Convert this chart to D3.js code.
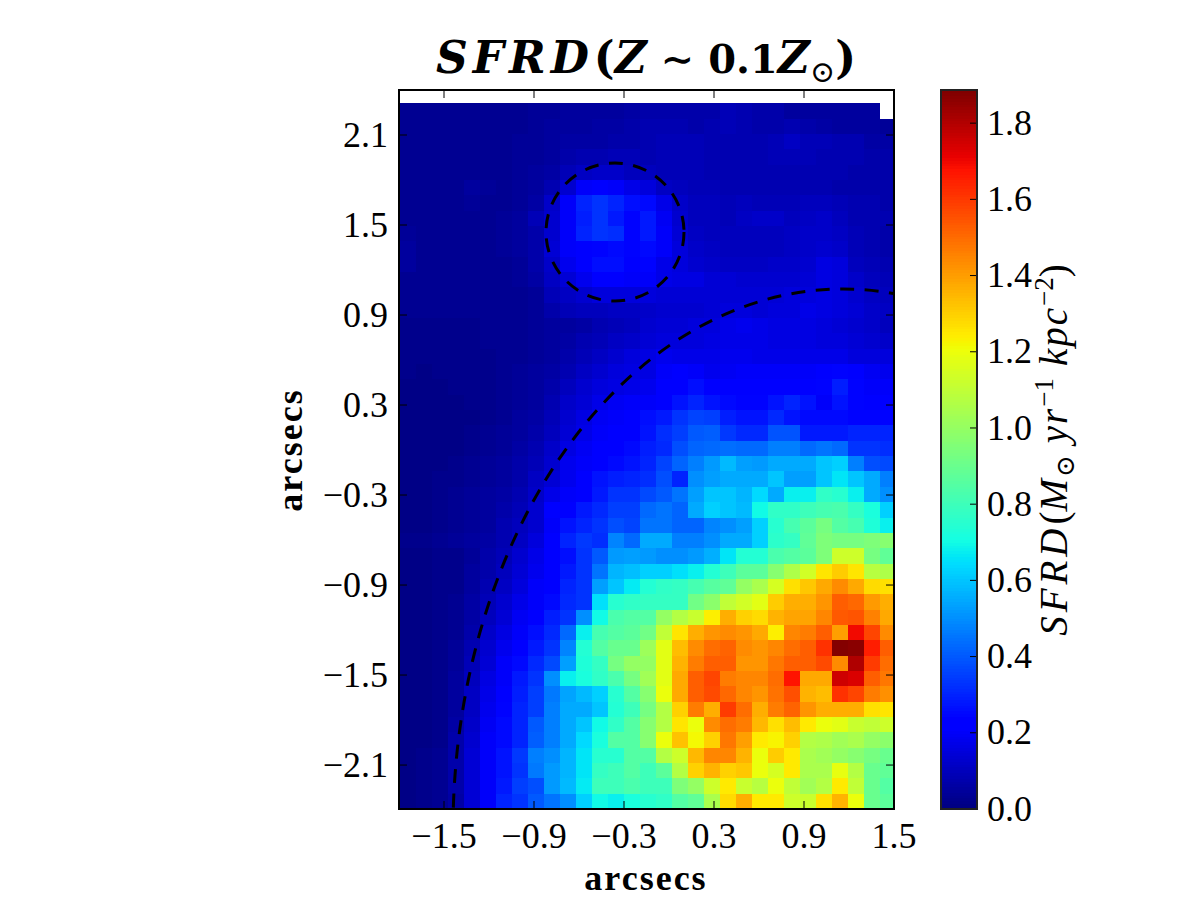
<!DOCTYPE html>
<html>
<head>
<meta charset="utf-8">
<script src="https://cdn.jsdelivr.net/npm/d3@7/dist/d3.min.js"></script>
<style>
  html, body { margin: 0; background: #fff; }
  svg { display: block; }
  text { font-family: "Liberation Serif", "DejaVu Serif", serif; fill: #000; }
  .tick text { font-size: 36px; }
  .math { font-family: "DejaVu Serif", "Liberation Serif", serif; }
</style>
</head>
<body>
<svg id="chart" width="1200" height="900"></svg>
<script>
// Star-formation-rate density map (rows top to bottom, columns left to right, null = no data)
const sfrdRows = [
  [null,null,null,null,null,null,null,null,null,null,null,null,null,null,null,null,null,null,null,null,null,null,null,null,null,null,null,null,null,null,null],
  [.03,.03,.03,.03,.03,.03,.03,.03,.04,.04,.05,.05,.05,.05,.06,.07,.07,.07,.07,.07,.09,.08,.07,.07,.05,.05,.05,.05,.05,.05,null],
  [.03,.03,.03,.03,.03,.03,.03,.03,.04,.05,.05,.05,.06,.06,.07,.08,.08,.08,.07,.08,.09,.08,.07,.07,.08,.07,.06,.05,.05,.05,.04],
  [.03,.03,.03,.03,.03,.03,.03,.04,.04,.05,.06,.06,.06,.07,.07,.08,.09,.09,.09,.08,.08,.08,.08,.09,.11,.09,.09,.08,.08,.06,.06],
  [.03,.03,.03,.03,.03,.03,.03,.04,.04,.05,.07,.08,.08,.09,.09,.08,.09,.09,.09,.08,.08,.08,.08,.09,.09,.09,.08,.08,.08,.07,.07],
  [.03,.03,.03,.03,.03,.03,.03,.04,.05,.06,.09,.11,.12,.12,.10,.10,.09,.09,.09,.08,.08,.08,.08,.08,.08,.08,.08,.08,.07,.07,.07],
  [.03,.03,.03,.03,.05,.04,.03,.04,.05,.08,.13,.20,.21,.20,.17,.15,.11,.10,.09,.09,.08,.08,.08,.08,.08,.08,.08,.07,.07,.07,.07],
  [.03,.03,.03,.03,.04,.03,.03,.04,.06,.12,.20,.30,.33,.30,.26,.25,.17,.12,.10,.10,.09,.10,.09,.09,.09,.10,.10,.09,.08,.08,.07],
  [.03,.03,.03,.03,.03,.03,.04,.05,.09,.13,.20,.29,.33,.28,.24,.28,.19,.13,.10,.10,.09,.11,.12,.12,.10,.11,.12,.10,.08,.08,.08],
  [.04,.03,.03,.03,.03,.03,.04,.05,.07,.13,.20,.30,.33,.32,.24,.28,.20,.14,.11,.10,.10,.10,.10,.10,.11,.12,.12,.11,.09,.08,.07],
  [.05,.03,.03,.03,.03,.03,.04,.05,.07,.14,.20,.23,.24,.25,.24,.25,.20,.15,.12,.11,.10,.10,.10,.10,.11,.12,.13,.12,.09,.08,.07],
  [.05,.03,.03,.03,.03,.03,.03,.04,.07,.12,.18,.22,.26,.26,.23,.24,.17,.15,.13,.12,.11,.11,.11,.12,.12,.13,.16,.15,.10,.09,.08],
  [.03,.03,.03,.03,.03,.03,.03,.04,.06,.11,.14,.18,.22,.22,.20,.20,.17,.16,.16,.14,.14,.13,.13,.13,.13,.14,.16,.15,.12,.10,.09],
  [.03,.03,.03,.03,.03,.03,.03,.03,.04,.09,.11,.13,.15,.15,.15,.15,.14,.14,.14,.14,.14,.14,.14,.14,.15,.15,.16,.15,.13,.11,.10],
  [.03,.03,.03,.03,.03,.03,.03,.03,.04,.07,.09,.10,.10,.11,.11,.12,.13,.13,.13,.14,.15,.15,.14,.15,.15,.17,.16,.15,.14,.12,.11],
  [.02,.02,.02,.02,.02,.03,.03,.03,.04,.05,.05,.06,.08,.09,.10,.13,.14,.14,.15,.15,.17,.18,.17,.16,.16,.16,.15,.14,.13,.12,.10],
  [.02,.02,.02,.02,.02,.03,.03,.03,.04,.05,.06,.08,.09,.11,.12,.14,.15,.15,.15,.16,.17,.17,.17,.16,.16,.16,.15,.15,.14,.13,.12],
  [.02,.02,.02,.02,.02,.02,.03,.03,.04,.05,.07,.09,.11,.13,.15,.16,.18,.17,.17,.17,.18,.18,.17,.17,.17,.17,.17,.17,.15,.15,.15],
  [.02,.01,.02,.02,.02,.02,.03,.04,.05,.06,.08,.11,.13,.15,.16,.16,.20,.21,.20,.18,.19,.20,.20,.20,.20,.20,.22,.24,.22,.19,.18],
  [.01,.01,.01,.02,.02,.02,.03,.04,.05,.07,.10,.13,.15,.16,.17,.18,.21,.22,.26,.21,.21,.21,.21,.21,.21,.21,.24,.29,.24,.20,.20],
  [.01,.01,.01,.01,.02,.02,.03,.04,.05,.08,.12,.14,.17,.19,.20,.20,.22,.27,.30,.27,.25,.24,.24,.27,.30,.27,.20,.27,.24,.22,.21],
  [.01,.01,.01,.01,.01,.02,.03,.05,.06,.09,.13,.16,.19,.20,.21,.26,.28,.33,.36,.35,.29,.27,.27,.31,.27,.25,.25,.25,.24,.24,.24],
  [.01,.01,.01,.01,.02,.03,.04,.05,.07,.10,.14,.17,.20,.21,.22,.27,.32,.35,.40,.41,.34,.31,.31,.39,.39,.28,.28,.28,.30,.30,.30],
  [.01,.01,.01,.01,.02,.03,.04,.06,.08,.12,.16,.19,.21,.22,.25,.29,.31,.38,.42,.43,.44,.43,.43,.47,.47,.43,.45,.43,.33,.33,.32],
  [.01,.01,.01,.02,.03,.04,.05,.07,.09,.13,.18,.20,.23,.25,.27,.30,.36,.42,.47,.52,.58,.53,.52,.55,.55,.55,.60,.62,.47,.38,.37],
  [.01,.01,.02,.02,.03,.04,.05,.07,.11,.14,.18,.21,.27,.29,.30,.32,.38,.30,.50,.53,.55,.55,.55,.60,.53,.53,.60,.66,.60,.55,.47],
  [.01,.01,.02,.03,.04,.05,.06,.08,.12,.17,.20,.23,.28,.33,.33,.37,.40,.45,.53,.60,.60,.57,.64,.55,.68,.68,.77,.75,.68,.55,.50],
  [.01,.01,.02,.03,.04,.05,.07,.09,.13,.21,.22,.28,.31,.35,.35,.43,.45,.42,.55,.62,.60,.58,.70,.77,.77,.80,.82,.83,.78,.72,.62],
  [.01,.01,.02,.03,.04,.05,.08,.10,.13,.20,.27,.30,.33,.38,.36,.45,.45,.42,.42,.48,.50,.53,.62,.75,.82,.87,.93,.85,.82,.73,.68],
  [.02,.02,.03,.04,.05,.06,.08,.11,.15,.22,.30,.34,.32,.48,.43,.55,.55,.47,.47,.50,.55,.55,.62,.76,.78,.88,.95,.93,.93,.95,.97],
  [.01,.01,.02,.02,.04,.07,.09,.13,.17,.21,.26,.33,.40,.52,.53,.52,.50,.50,.52,.56,.66,.74,.74,.83,.85,.87,.95,1.13,1.13,.93,.88],
  [.01,.01,.02,.02,.05,.07,.10,.14,.18,.22,.28,.33,.45,.57,.59,.62,.62,.65,.68,.74,.80,.87,.87,.97,1.06,1.14,1.26,1.31,1.26,1.08,1.06],
  [.01,.01,.02,.02,.05,.08,.11,.15,.20,.23,.30,.33,.53,.60,.67,.74,.77,.78,.82,.86,.88,1.00,1.05,1.15,1.27,1.32,1.38,1.44,1.38,1.28,1.27],
  [.01,.01,.02,.03,.06,.09,.13,.17,.20,.25,.31,.33,.65,.75,.77,.78,.78,.78,.92,.98,1.10,1.14,1.18,1.31,1.37,1.37,1.42,1.53,1.51,1.41,1.37],
  [.01,.01,.02,.03,.06,.10,.14,.19,.22,.29,.33,.50,.70,.83,.85,.85,1.00,1.07,1.12,1.24,1.37,1.30,1.28,1.36,1.39,1.39,1.45,1.54,1.55,1.46,1.38],
  [.01,.01,.02,.03,.07,.12,.16,.20,.26,.31,.43,.68,.82,.85,.87,.92,1.10,1.26,1.37,1.42,1.44,1.42,1.38,1.24,1.45,1.47,1.53,1.40,1.70,1.58,1.44],
  [.01,.01,.02,.04,.08,.13,.18,.22,.28,.33,.48,.74,.85,.90,.90,1.02,1.18,1.34,1.44,1.50,1.52,1.44,1.42,1.45,1.50,1.53,1.62,1.88,1.87,1.66,1.53],
  [.01,.01,.02,.04,.09,.14,.20,.25,.31,.37,.53,.73,.78,.93,1.00,1.00,1.18,1.36,1.47,1.53,1.53,1.42,1.42,1.48,1.53,1.53,1.57,1.44,1.81,1.60,1.50],
  [.01,.01,.02,.05,.10,.16,.20,.28,.33,.50,.68,.72,.77,.83,.93,1.03,1.18,1.38,1.53,1.58,1.47,1.45,1.45,1.50,1.68,1.38,1.38,1.76,1.74,1.53,1.48],
  [.01,.01,.02,.05,.11,.17,.22,.29,.35,.46,.54,.58,.62,.75,.85,.97,1.20,1.38,1.53,1.57,1.51,1.45,1.42,1.49,1.56,1.36,1.34,1.62,1.58,1.47,1.43],
  [.01,.01,.02,.05,.11,.18,.24,.30,.35,.47,.55,.55,.60,.74,.80,.93,1.07,1.30,1.47,1.37,1.60,1.50,1.37,1.47,1.52,1.42,1.37,1.37,1.37,1.27,1.26],
  [.01,.01,.02,.06,.12,.19,.25,.30,.40,.47,.55,.60,.70,.77,.85,.97,1.07,1.26,1.20,1.44,1.50,1.47,1.35,1.27,1.34,1.25,1.20,1.18,1.12,1.10,1.13],
  [.01,.01,.02,.07,.13,.20,.25,.30,.41,.47,.55,.64,.72,.85,.85,.97,1.20,1.33,1.22,1.30,1.48,1.40,1.25,1.23,1.30,1.07,1.06,1.03,1.05,1.00,.98],
  [.01,.02,.03,.07,.14,.20,.27,.34,.47,.50,.57,.66,.75,.75,.85,.85,1.07,1.13,1.35,1.45,1.45,1.36,1.20,1.31,1.25,1.05,1.03,1.00,.97,.93,.90],
  [.01,.02,.03,.07,.14,.20,.27,.33,.46,.52,.57,.66,.78,.80,.85,.80,.87,1.07,1.30,1.36,1.30,1.32,1.20,1.15,1.25,1.05,1.05,1.19,1.07,.90,.88],
  [.01,.02,.03,.07,.14,.20,.28,.35,.38,.52,.58,.67,.80,.80,.83,.80,.80,.95,1.00,1.13,1.25,1.12,1.08,1.20,1.10,1.03,1.07,1.25,1.10,.90,.85],
  [.01,.02,.03,.06,.14,.20,.30,.33,.40,.45,.50,.62,.70,.68,.72,.75,.77,.85,.88,1.05,1.28,1.37,1.25,1.25,1.13,1.12,1.27,1.36,1.20,.90,.87]
];

// Axis ranges and tick values, all in arcseconds
const xDomain = [-1.8, 1.5];
const yDomain = [-2.393, 2.4];
const xTicks = [-1.5, -0.9, -0.3, 0.3, 0.9, 1.5];
const yTicks = [-2.1, -1.5, -0.9, -0.3, 0.3, 0.9, 1.5, 2.1];
const barTicks = [0, 0.2, 0.4, 0.6, 0.8, 1.0, 1.2, 1.4, 1.6, 1.8];
const barMax = 1.887;

// Size of one map pixel in arcseconds
const cellW = 0.10667;
const cellH = 0.10227;

// Dashed apertures: [centre x, centre y, radius x, radius y]
const apertures = [
  [-0.36, 1.453, 0.46, 0.46],
  [1.16, -2.533, 2.6, 3.607]
];

// Piecewise definition of the jet colormap
const jetR = [[0, .35, .66, .89, 1], [0, 0, 1, 1, .5]];
const jetG = [[0, .125, .375, .64, .91, 1], [0, 0, 1, 1, 0, 0]];
const jetB = [[0, .11, .34, .65, 1], [.5, 1, 1, 0, 0]];

const channel = ([d, r]) => d3.scaleLinear().domain(d).range(r.map(v => v * 255));
const rS = channel(jetR), gS = channel(jetG), bS = channel(jetB);
const jet = t => `rgb(${Math.round(rS(t))},${Math.round(gS(t))},${Math.round(bS(t))})`;
const minusFmt = d => d3.format(".1f")(d).replace("-", "\u2212");

const plot = { left: 399, right: 894, top: 90, bottom: 809 };
const bar = { left: 941, right: 977 };

const svg = d3.select("#chart");
const x = d3.scaleLinear().domain(xDomain).range([plot.left, plot.right]);
const y = d3.scaleLinear().domain(yDomain).range([plot.bottom, plot.top]);
const colorValue = d3.scaleLinear().domain([0, barMax]).range([0, 1]).clamp(true);
const barY = d3.scaleLinear().domain([0, barMax]).range([plot.bottom, plot.top]);

svg.append("defs").append("clipPath").attr("id", "plotClip")
  .append("rect")
  .attr("x", plot.left).attr("y", plot.top)
  .attr("width", plot.right - plot.left).attr("height", plot.bottom - plot.top);

// Map pixels
const nRows = sfrdRows.length;
const map = svg.append("g").attr("clip-path", "url(#plotClip)");
sfrdRows.forEach((row, r) => {
  map.selectAll(null)
    .data(row.map((v, c) => ({ v, c })).filter(d => d.v !== null))
    .join("rect")
    .attr("shape-rendering", "crispEdges")
    .attr("x", d => x(xDomain[0] + d.c * cellW) + 0.5)
    .attr("width", x(cellW) - x(0))
    .attr("y", y(yDomain[0] + (nRows - r) * cellH))
    .attr("height", y(0) - y(cellH))
    .attr("fill", d => jet(colorValue(d.v)));
});

// Dashed ellipses
map.selectAll("ellipse")
  .data(apertures)
  .join("ellipse")
  .attr("cx", d => x(d[0]))
  .attr("cy", d => y(d[1]))
  .attr("rx", d => x(d[2]) - x(0))
  .attr("ry", d => y(0) - y(d[3]))
  .attr("fill", "none")
  .attr("stroke", "#000")
  .attr("stroke-width", 3)
  .attr("stroke-dasharray", "14 10.5");

// Inward ticks on all four sides of the map
const tickLen = 8;
const styleAxis = g => {
  g.select(".domain").remove();
  g.selectAll(".tick line").attr("stroke", "#000").attr("stroke-width", 1);
};
svg.append("g").attr("transform", `translate(${plot.left},0)`)
  .call(d3.axisLeft(y).tickValues(yTicks).tickSizeInner(-tickLen).tickPadding(11).tickFormat(minusFmt).offset(0))
  .call(styleAxis);
svg.append("g").attr("transform", `translate(${plot.right},0)`)
  .call(d3.axisRight(y).tickValues(yTicks).tickSizeInner(-tickLen).tickFormat("").offset(0))
  .call(styleAxis);
svg.append("g").attr("transform", `translate(0,${plot.bottom})`)
  .call(d3.axisBottom(x).tickValues(xTicks).tickSizeInner(-tickLen).tickPadding(13).tickFormat(minusFmt).offset(0))
  .call(styleAxis);
svg.append("g").attr("transform", `translate(0,${plot.top})`)
  .call(d3.axisTop(x).tickValues(xTicks).tickSizeInner(-tickLen).tickFormat("").offset(0))
  .call(styleAxis);

// Plot frame
svg.append("rect")
  .attr("x", plot.left).attr("y", plot.top)
  .attr("width", plot.right - plot.left).attr("height", plot.bottom - plot.top)
  .attr("fill", "none").attr("stroke", "#000").attr("stroke-width", 2);

// Colour bar
const levels = d3.range(256);
svg.append("g").selectAll("rect")
  .data(levels)
  .join("rect")
  .attr("shape-rendering", "crispEdges")
  .attr("x", bar.left)
  .attr("width", bar.right - bar.left)
  .attr("y", d => barY((d + 1) / 256 * barMax))
  .attr("height", barY(0) - barY(barMax / 256) + 0.6)
  .attr("fill", d => jet(d / 255));
svg.append("g").attr("transform", `translate(${bar.right},0)`)
  .call(d3.axisRight(barY).tickValues(barTicks).tickSizeInner(-7).tickPadding(10).tickFormat(d3.format(".1f")).offset(0))
  .call(styleAxis);
svg.append("rect")
  .attr("x", bar.left).attr("y", plot.top)
  .attr("width", bar.right - bar.left).attr("height", plot.bottom - plot.top)
  .attr("fill", "none").attr("stroke", "#222").attr("stroke-width", 2);

// Axis labels
const labelStyle = t => t.attr("text-anchor", "middle").attr("font-weight", "bold").attr("font-size", 36).attr("letter-spacing", 2);
svg.append("text").text("arcsecs").attr("x", 646).attr("y", 890).call(labelStyle);
svg.append("text").text("arcsecs").attr("transform", "translate(302,450) rotate(-90)").call(labelStyle);

// Title: bold italic letters with a bold upright number and a lowered solar subscript
const title = svg.append("text")
  .attr("x", 646).attr("y", 73)
  .attr("text-anchor", "middle")
  .attr("class", "math")
  .attr("font-size", 44).attr("font-weight", "bold");
title.append("tspan").attr("font-style", "italic").attr("letter-spacing", 5).text("SFRD");
title.append("tspan").text("(");
title.append("tspan").attr("font-style", "italic").text("Z");
title.append("tspan").attr("dx", 14).attr("font-size", 40).text("\u223C");
title.append("tspan").attr("dx", 14).attr("font-size", 40).text("0.1");
title.append("tspan").attr("font-style", "italic").text("Z");
title.append("tspan").attr("dy", 9).attr("font-size", 30).attr("font-weight", "normal").text("\u2299");
title.append("tspan").attr("dy", -9).text(")");

// Colour-bar label with solar subscript and unit exponents
const unit = svg.append("text")
  .attr("transform", "translate(1067,450) rotate(-90)")
  .attr("text-anchor", "middle")
  .attr("font-size", 39).attr("font-style", "italic");
unit.append("tspan").attr("letter-spacing", 4).text("SFRD");
unit.append("tspan").attr("font-style", "normal").text("(");
unit.append("tspan").attr("letter-spacing", 2).text("M");
unit.append("tspan").attr("class", "math").attr("font-style", "normal").attr("font-size", 26).attr("dy", 7).text("\u2299");
unit.append("tspan").attr("dy", -7).attr("dx", 12).attr("letter-spacing", 2).text("yr");
unit.append("tspan").attr("font-style", "normal").attr("font-size", 27).attr("dy", -14).text("\u22121");
unit.append("tspan").attr("dy", 14).attr("dx", 12).attr("letter-spacing", 2).text("kpc");
unit.append("tspan").attr("font-style", "normal").attr("font-size", 27).attr("dy", -14).text("\u22122");
unit.append("tspan").attr("font-style", "normal").attr("dy", 14).text(")");
</script>
</body>
</html>
